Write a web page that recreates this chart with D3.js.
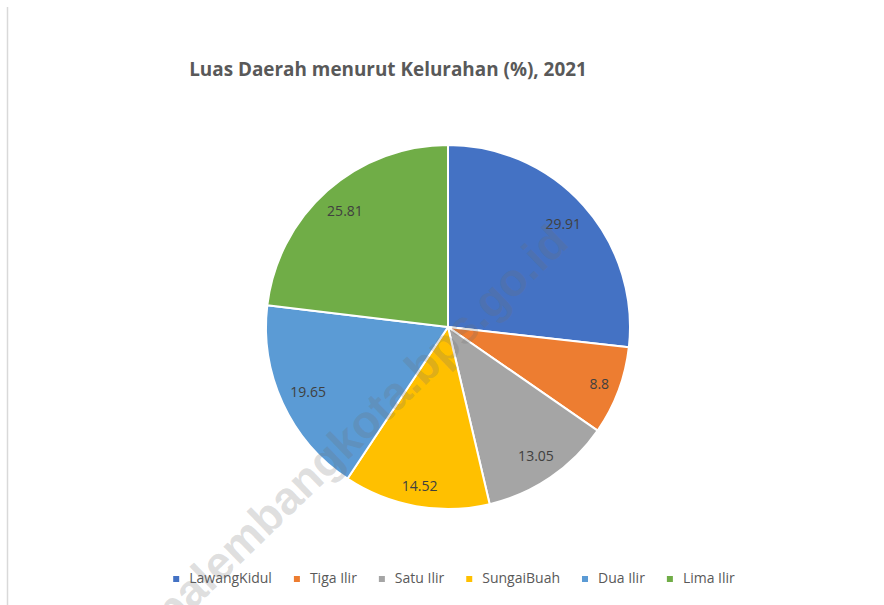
<!DOCTYPE html>
<html><head><meta charset="utf-8">
<script src="https://cdn.jsdelivr.net/npm/d3@7"></script>
<style>html,body{margin:0;padding:0;background:#fff;}</style>
</head><body>
<svg id="chart" width="884" height="605"></svg>
<script>
const title = "Luas Daerah menurut Kelurahan (%), 2021";
const categories = ["LawangKidul", "Tiga Ilir", "Satu Ilir", "SungaiBuah", "Dua Ilir", "Lima Ilir"];
const values = [29.91, 8.8, 13.05, 14.52, 19.65, 25.81];
const colors = ["#4472C4", "#ED7D31", "#A5A5A5", "#FFC000", "#5B9BD5", "#70AD47"];
const watermark = "palembangkota.bps.go.id";

const svg = d3.select("#chart");
const font = "'Open Sans', 'Noto Sans', sans-serif";

// page border line
svg.append("line").attr("x1", 7.5).attr("x2", 7.5).attr("y1", 7).attr("y2", 605)
  .attr("stroke", "#d9d9d9").attr("stroke-width", 1.5);

svg.append("text").attr("x", 388).attr("y", 76).attr("text-anchor", "middle")
  .attr("font-family", font).attr("font-weight", "bold").attr("font-size", 18.9)
  .attr("fill", "#595959").text(title);

const cx = 448, cy = 327, r = 182;
const data = categories.map((c, i) => ({name: c, value: values[i], color: colors[i]}));
const pie = d3.pie().value(d => d.value).sort(null);
const arcs = pie(data);
const arc = d3.arc().innerRadius(0).outerRadius(r);

const g = svg.append("g").attr("transform", `translate(${cx},${cy})`);
g.selectAll("path").data(arcs).join("path")
  .attr("d", arc).attr("fill", d => d.data.color)
  .attr("stroke", "#fff").attr("stroke-width", 2).attr("stroke-linejoin", "round");

// labels: placed along the slice bisector so that the label box's outer corner sits just inside the edge
g.selectAll("text.lbl").data(arcs).join("text").attr("class", "lbl")
  .attr("text-anchor", "middle").attr("dy", "0.35em")
  .attr("font-family", font).attr("font-size", 14).attr("fill", "#404040")
  .text(d => d.data.value)
  .each(function(d) {
    const bb = this.getBBox();
    const hw = bb.width / 2, hh = 9;
    const a = (d.startAngle + d.endAngle) / 2;
    const ux = Math.sin(a), uy = -Math.cos(a);
    const target = r - 8;
    let lo = 0, hi = r;
    for (let k = 0; k < 40; k++) {
      const m = (lo + hi) / 2;
      const px = m * ux, py = m * uy;
      const fx = Math.abs(px) + hw, fy = Math.abs(py) + hh;
      if (Math.hypot(fx, fy) > target) hi = m; else lo = m;
    }
    d3.select(this).attr("transform", `translate(${lo * ux},${lo * uy})`);
  });

// legend
const lg = svg.append("g");
let x = 0;
data.forEach(d => {
  const it = lg.append("g");
  it.append("rect").attr("x", 0).attr("y", -7).attr("width", 6).attr("height", 6).attr("fill", d.color);
  const t = it.append("text").attr("x", 16).attr("y", 0)
    .attr("font-family", font).attr("font-size", 14).attr("fill", "#595959").text(d.name);
  const w = 16 + t.node().getComputedTextLength();
  it.attr("transform", `translate(${x},0)`);
  x += w + 22;
});
const total = x - 22;
lg.attr("transform", `translate(${454 - total / 2},583)`);

// watermark
svg.append("text").attr("transform", "translate(360,426) rotate(-44)")
  .attr("text-anchor", "middle").attr("dy", "0.35em")
  .attr("font-family", "'Liberation Sans', Arial, sans-serif").attr("font-weight", "bold")
  .attr("font-size", 46).attr("fill", "rgba(110,110,110,0.22)").text(watermark);
</script>
</body></html>
